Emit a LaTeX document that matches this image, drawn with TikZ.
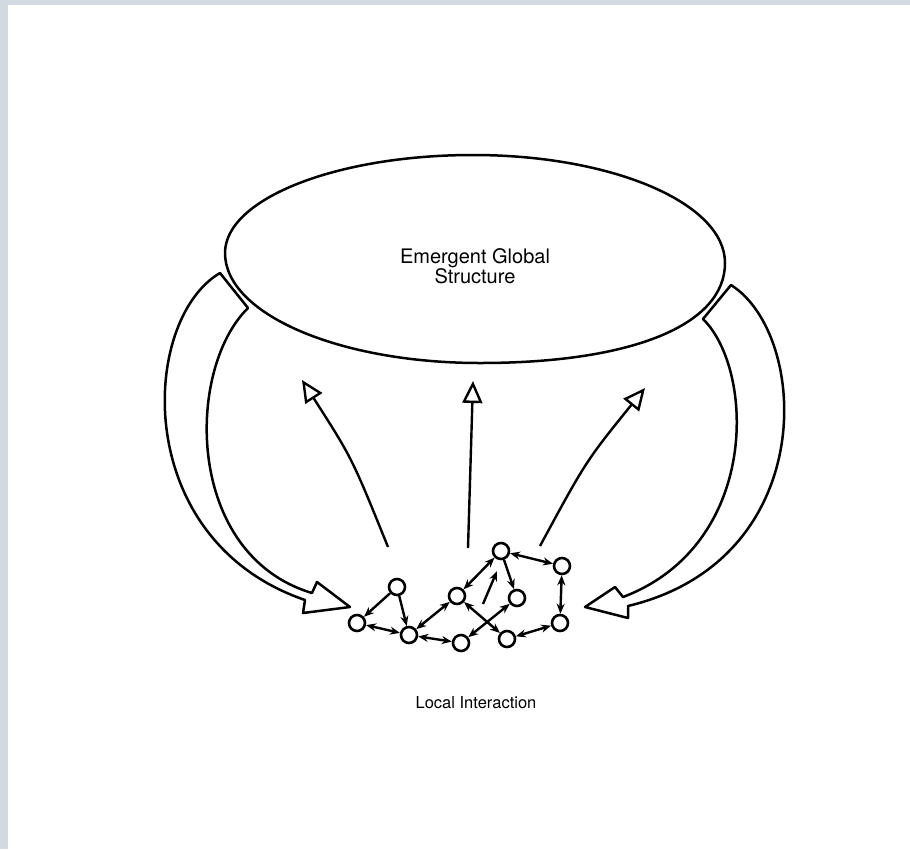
\documentclass[tikz,border=0pt]{standalone}
\usepackage{fontspec}
\setmainfont{TeX Gyre Heros}
\usetikzlibrary{arrows.meta}
\definecolor{framegray}{RGB}{210,217,225}

\begin{document}
\begin{tikzpicture}[x=1pt, y=-1pt, line join=round,
  >={Stealth[length=10pt, width=8pt]},
  agent/.style={draw, circle, line width=2.6pt, minimum size=16pt, inner sep=0pt},
  link/.style={line width=2.4pt},
  rise/.style={line width=2.4pt, -{Triangle[open, length=22pt, width=20pt]}},
  band/.style={line width=2.5pt}]
\useasboundingbox (0,0) rectangle (910,849);
\fill[framegray] (0,0) rectangle (910,849);
\fill[white] (8,5) rectangle (910,849);
\draw[band] (225,253) .. controls (225,199) and (336,155) .. (473,155)
  .. controls (612,155) and (725,203) .. (725,263)
  .. controls (725,325) and (632,363) .. (480,363)
  .. controls (339,363) and (225,314) .. cycle;
\node (esg) at (475,266) [align=center, font=\fontsize{20}{20}\selectfont] {Emergent Global\\Structure};
\node (li) at (476,703) [font=\fontsize{16.5}{18}\selectfont] {Local Interaction};
\draw[band] (248,308) -- (220,273) .. controls (140,320) and (130,540) .. (305,600)
  -- (303,613) -- (350,607) -- (317,582) -- (312,593)
  .. controls (185,555) and (185,370) .. cycle;
\draw[band] (703,319) -- (731,285) .. controls (810,335) and (820,560) .. (628,606)
  -- (628,618) -- (585,607) -- (615,587) -- (623,597)
  .. controls (760,545) and (755,370) .. cycle;
\node[agent] (v1) at (397,587) {};
\node[agent] (v2) at (357,623) {};
\node[agent] (v3) at (409,635) {};
\node[agent] (v4) at (457,596) {};
\node[agent] (v5) at (501,551) {};
\node[agent] (v6) at (517,598) {};
\node[agent] (v7) at (562,566) {};
\node[agent] (v8) at (560,623) {};
\node[agent] (v9) at (461,643) {};
\node[agent] (v10) at (507,639) {};
\draw[link, ->] (v1) -- (v2);
\draw[link, ->] (v1) -- (v3);
\draw[link, <->] (v2) -- (v3);
\draw[link, <->] (v3) -- (v9);
\draw[link, <->] (v3) -- (v4);
\draw[link, <->] (v4) -- (v5);
\draw[link, ->] (v5) -- (v6);
\draw[link, <->] (v5) -- (v7);
\draw[link, <->] (v7) -- (v8);
\draw[link, <->] (v8) -- (v10);
\draw[link, <->] (v4) -- (v10);
\draw[link, <->] (v6) -- (v9);
\coordinate (f1) at (483,604);
\coordinate (f2) at (497,571);
\draw[link, ->] (f1) -- (f2);
\coordinate (p1) at (388,547);
\coordinate (q1) at (302,380);
\coordinate (p2) at (468,548);
\coordinate (q2) at (473,381);
\coordinate (p3) at (540,546);
\coordinate (q3) at (645,388);
\draw[rise] (p1) .. controls (352,458) .. (q1);
\draw[rise] (p2) -- (q2);
\draw[rise] (p3) .. controls (586,461) .. (q3);
\end{tikzpicture}
\end{document}
